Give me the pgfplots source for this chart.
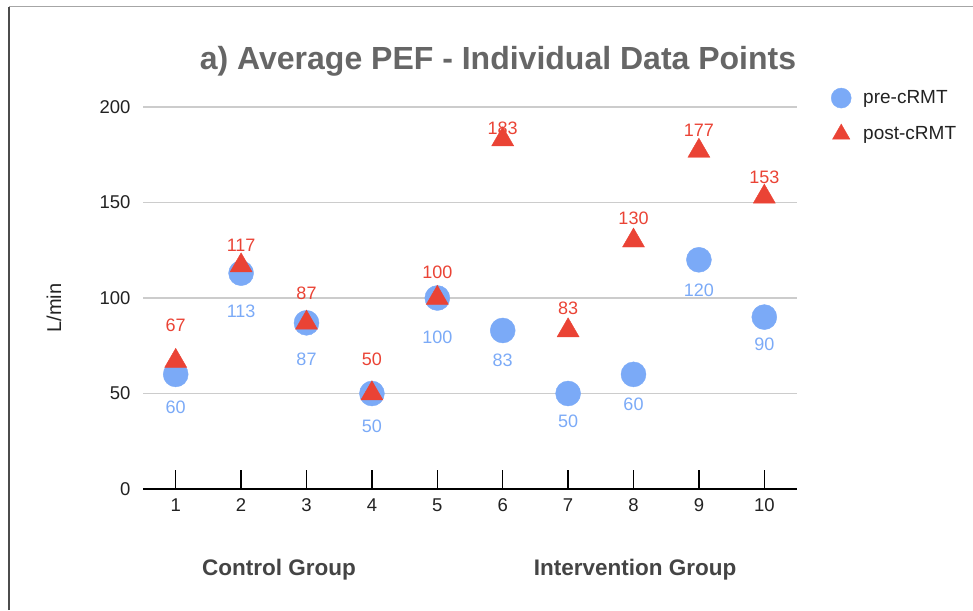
\documentclass[border=0pt]{standalone}
\usepackage{fontspec}
\setmainfont{Liberation Sans}
\usepackage{pgfplots}
\usepackage{pgfplotstable}
\pgfplotsset{compat=1.18}
\definecolor{preblue}{HTML}{7BAAF7}
\definecolor{postred}{HTML}{EA4335}
\definecolor{gridgray}{HTML}{CCCCCC}
\definecolor{titlegray}{HTML}{666666}
\definecolor{grouplbl}{HTML}{444444}
\definecolor{txt}{HTML}{222222}

\pgfplotstableread{
x y dy
1 60 -33
2 113 -38
3 87 -36
4 50 -33
5 100 -39
6 83 -30
7 50 -28
8 60 -30
9 120 -31
10 90 -27
}\pre
\pgfplotstableread{
x y dy
1 67 36
2 117 20
3 87 30
4 50 34
5 100 26
6 183 11
7 83 22
8 130 22
9 177 21
10 153 19
}\post

\begin{document}
\begin{tikzpicture}[x=1pt,y=1pt]
\path[use as bounding box] (0,0) rectangle (973,610);
\draw[line width=2pt, color=black!70] (9,0) -- (9,603);
\draw[line width=1pt, color=black!35] (9,603) -- (973,603);
\begin{axis}[
  at={(143pt,121pt)}, anchor=south west, scale only axis,
  width=654pt, height=382pt,
  xmin=0.5, xmax=10.5, ymin=0, ymax=200,
  xtick={1,...,10}, ytick={0,50,100,150,200},
  axis x line*=bottom, axis y line*=left,
  y axis line style={draw=none},
  x axis line style={-, black, line width=1.3pt},
  ytick style={draw=none},
  xtick style={black, line width=1.3pt},
  tick align=inside, major tick length=19pt,
  ymajorgrids, grid style={gridgray, line width=1.3pt},
  tick label style={font=\fontsize{18.5}{22}\selectfont, color=txt},
  /pgf/number format/assume math mode=true,
  yticklabel style={xshift=-9pt},
  xticklabel style={yshift=-6pt},
  clip=false,
  legend style={at={(axis description cs:1.052,1.05)}, anchor=north west, draw=none, fill=none,
    font=\fontsize{19}{22}\selectfont, text=txt, row sep=16pt, inner sep=0pt,
    /tikz/every odd column/.append style={column sep=10pt}},
  legend cell align=left,
]
\addplot[only marks, mark=*, mark size=12.5pt, color=preblue, mark options={fill=preblue, draw=preblue},
  visualization depends on={\thisrow{dy}\as\dy},
  nodes near coords, point meta=y,
  nodes near coords style={anchor=center, yshift=\dy pt, font=\fontsize{18}{21}\selectfont, color=preblue},
  legend image post style={mark size=10pt}]
  table[x=x, y=y] {\pre};
\addlegendentry{pre-cRMT}
\addplot[only marks, mark=triangle*, mark size=12.7pt, color=postred, mark options={fill=postred, draw=postred},
  visualization depends on={\thisrow{dy}\as\dy},
  nodes near coords, point meta=y,
  nodes near coords style={anchor=center, yshift=\dy pt, font=\fontsize{18}{21}\selectfont, color=postred},
  legend image post style={mark size=10pt}]
  table[x=x, y=y] {\post};
\addlegendentry{post-cRMT}
\end{axis}
\node[font=\fontsize{32}{36}\selectfont\bfseries, color=titlegray] at (498,549) {a) Average PEF - Individual Data Points};
\node[font=\fontsize{20}{24}\selectfont, color=txt, rotate=90] at (54,302) {L/min};
\node[font=\fontsize{22.5}{26}\selectfont\bfseries, color=grouplbl] at (279,40) {Control Group};
\node[font=\fontsize{22.5}{26}\selectfont\bfseries, color=grouplbl] at (635,40) {Intervention Group};
\end{tikzpicture}
\end{document}
